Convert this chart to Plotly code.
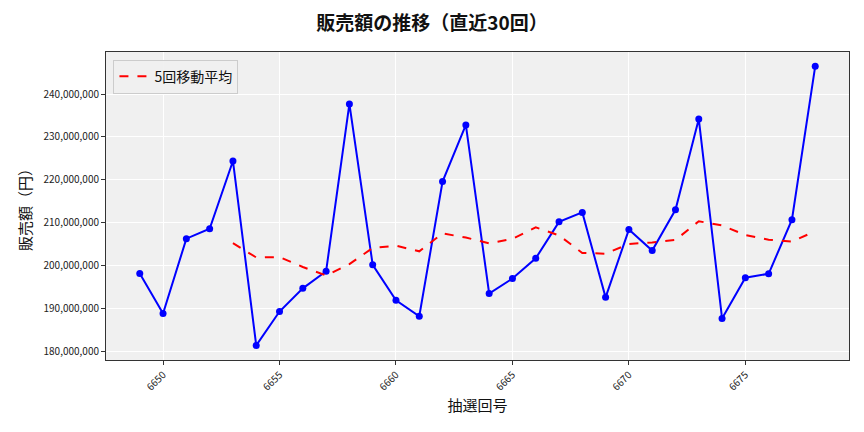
import plotly.graph_objects as go
import pandas as pd

draws = list(range(6649, 6679))
sales = [198.14, 188.84, 206.28, 208.6, 224.4, 181.4, 189.3, 194.7, 198.7, 237.7,
         200.2, 191.9, 188.2, 219.6, 232.8, 193.5, 197.0, 201.7, 210.2, 212.4,
         192.6, 208.4, 203.5, 213.0, 234.2, 187.7, 197.2, 198.1, 210.7, 246.5]
sales = [v * 1e6 for v in sales]
ma5 = pd.Series(sales).rolling(5).mean().tolist()

title = "販売額の推移（直近30回）"
x_title = "抽選回号"
y_title = "販売額（円）"
ma_label = "5回移動平均"

FONT = "Noto Sans CJK JP"

fig = go.Figure()
fig.add_trace(go.Scatter(
    x=draws, y=sales, mode="lines+markers",
    line=dict(color="#0000FF", width=2),
    marker=dict(color="#0000FF", size=7),
    showlegend=False,
))
fig.add_trace(go.Scatter(
    x=draws, y=ma5, mode="lines", name=ma_label,
    line=dict(color="#FF0000", width=2, dash="dash"),
))

fig.update_layout(
    width=864, height=432,
    margin=dict(l=106, r=15, t=52, b=72),
    paper_bgcolor="white",
    plot_bgcolor="#F0F0F0",
    font=dict(family=FONT, color="#222222"),
    title=dict(text=title, x=0.5, xanchor="center", y=0.945, yanchor="middle",
               font=dict(family=FONT, size=19, color="#111111", weight="bold")),
    legend=dict(x=0.01, y=0.975, xanchor="left", yanchor="top",
                bgcolor="rgba(240,240,240,0.9)", bordercolor="#CCCCCC", borderwidth=1,
                font=dict(family=FONT, size=14, color="#111111")),
)
fig.update_xaxes(
    range=[6647.55, 6679.45],
    tick0=0, dtick=5, tickangle=-45,
    tickfont=dict(size=10),
    ticks="outside", ticklen=4, tickcolor="#333333",
    showgrid=True, gridcolor="white", gridwidth=1,
    showline=True, linecolor="#333333", linewidth=1, mirror=True,
    zeroline=False,
    title=dict(text=x_title, font=dict(size=15, color="#111111"), standoff=8),
)
fig.update_yaxes(
    range=[178.0e6, 249.8e6],
    tick0=0, dtick=10e6, tickformat=",d",
    tickfont=dict(size=10),
    ticks="outside", ticklen=4, tickcolor="#333333",
    showgrid=True, gridcolor="white", gridwidth=1,
    showline=True, linecolor="#333333", linewidth=1, mirror=True,
    zeroline=False,
    title=dict(text=y_title, font=dict(size=15, color="#111111"), standoff=8),
)

fig.write_html("out.html")
